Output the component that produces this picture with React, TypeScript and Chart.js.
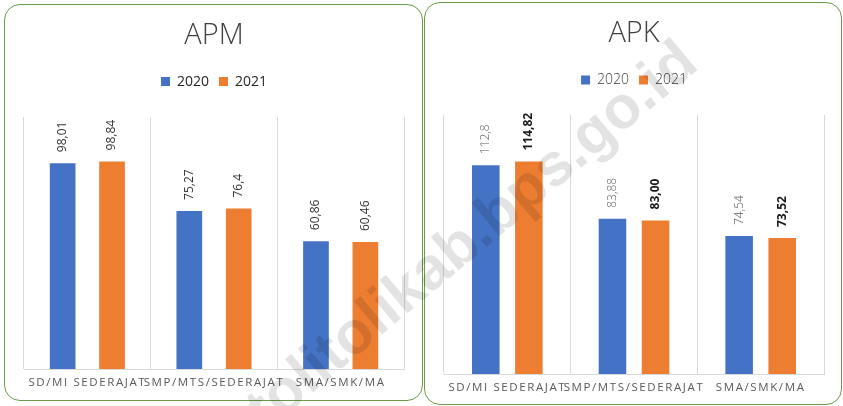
import React, { useEffect, useRef } from 'react';
import { Chart, registerables, CategoryScale } from 'chart.js';

// ---------- data ----------
const categories = ['SD/MI SEDERAJAT', 'SMP/MTS/SEDERAJAT', 'SMA/SMK/MA'];
const seriesNames = ['2020', '2021'];

const apm2020 = [98.01, 75.27, 60.86];
const apm2021 = [98.84, 76.4, 60.46];
const apmLabels2020 = ['98,01', '75,27', '60,86'];
const apmLabels2021 = ['98,84', '76,4', '60,46'];
const apmMax = 120;

const apk2020 = [112.8, 83.88, 74.54];
const apk2021 = [114.82, 83.0, 73.52];
const apkLabels2020 = ['112,8', '83,88', '74,54'];
const apkLabels2021 = ['114,82', '83,00', '73,52'];
const apkMax = 140;

const watermarkText = 'tolitolikab.bps.go.id';

// ---------- chart.js setup ----------
class SpacedCategoryScale extends CategoryScale {
  static id = 'spacedCategory';
  static defaults = (CategoryScale as any).defaults;
  drawLabels(chartArea: any) {
    const ctx = (this as any).ctx as CanvasRenderingContext2D;
    ctx.save();
    (ctx as any).letterSpacing = '1.6px';
    super.drawLabels(chartArea);
    ctx.restore();
  }
}

Chart.register(...registerables, SpacedCategoryScale);

const barLabels = {
  id: 'barLabels',
  afterDatasetsDraw(chart: any, _args: any, opts: any) {
    const ctx = chart.ctx as CanvasRenderingContext2D;
    chart.data.datasets.forEach((_ds: any, di: number) => {
      const meta = chart.getDatasetMeta(di);
      const style = opts.styles[di];
      const labels = opts.labels[di];
      meta.data.forEach((bar: any, i: number) => {
        ctx.save();
        ctx.translate(bar.x, bar.y - opts.offset);
        ctx.rotate(-Math.PI / 2);
        ctx.font = style.font;
        ctx.fillStyle = style.color;
        ctx.textAlign = 'left';
        ctx.textBaseline = 'middle';
        ctx.fillText(labels[i], 0, 0);
        ctx.restore();
      });
    });
  },
};

const FONT = "'Open Sans', 'Noto Sans', sans-serif";
const BLUE = '#4472C4';
const ORANGE = '#ED7D31';
const GRID = '#d9d9d9';

type PanelCfg = {
  title: string;
  v2020: number[];
  v2021: number[];
  l2020: string[];
  l2021: string[];
  max: number;
  catPct: number;
  barPct: number;
  titlePadTop: number;
  titlePadBottom: number;
  spacer: number;
  padLeft: number;
  padRight: number;
  padBottom: number;
  legendColor: string;
  legendWeight: string;
  labelStyles: { font: string; color: string }[];
};

function makeChart(canvas: HTMLCanvasElement, c: PanelCfg) {
  return new Chart(canvas, {
    type: 'bar',
    data: {
      labels: categories,
      datasets: [
        { label: seriesNames[0], data: c.v2020, backgroundColor: BLUE, categoryPercentage: c.catPct, barPercentage: c.barPct },
        { label: seriesNames[1], data: c.v2021, backgroundColor: ORANGE, categoryPercentage: c.catPct, barPercentage: c.barPct },
      ],
    },
    options: {
      responsive: false,
      animation: false,
      events: [],
      layout: { padding: { top: 0, left: c.padLeft, right: c.padRight, bottom: c.padBottom } },
      scales: {
        x: {
          type: 'spacedCategory' as any,
          offset: true,
          grid: { offset: true, color: GRID, lineWidth: 1, drawTicks: false },
          border: { color: GRID, width: 1 },
          ticks: {
            autoSkip: false,
            maxRotation: 0,
            minRotation: 0,
            padding: 7,
            color: '#595959',
            font: { family: FONT, size: 11.5 },
          },
        },
        y: { display: false, min: 0, max: c.max },
      },
      plugins: {
        title: {
          display: true,
          text: c.title,
          color: '#404040',
          font: { family: FONT, size: 29, weight: '300' as any },
          padding: { top: c.titlePadTop, bottom: c.titlePadBottom },
        },
        subtitle: {
          display: true,
          text: '',
          font: { size: 1 },
          padding: { top: 0, bottom: c.spacer },
          weight: 500,
        } as any,
        legend: {
          display: true,
          position: 'top',
          weight: 1800,
          labels: {
            boxWidth: 9,
            boxHeight: 9,
            padding: 10,
            color: c.legendColor,
            font: { family: FONT, size: 14, weight: c.legendWeight as any },
          },
        } as any,
        tooltip: { enabled: false },
        barLabels: {
          offset: 11,
          labels: [c.l2020, c.l2021],
          styles: c.labelStyles,
        },
      } as any,
    },
    plugins: [barLabels],
  });
}

const apmCfg: PanelCfg = {
  title: 'APM',
  v2020: apm2020,
  v2021: apm2021,
  l2020: apmLabels2020,
  l2021: apmLabels2021,
  max: apmMax,
  catPct: 0.78,
  barPct: 0.52,
  titlePadTop: 14.6,
  titlePadBottom: 11.2,
  spacer: 17.2,
  padLeft: 20,
  padRight: 19,
  padBottom: 4.2,
  legendColor: '#262626',
  legendWeight: '400',
  labelStyles: [
    { font: `400 12px ${FONT}`, color: '#333333' },
    { font: `400 12px ${FONT}`, color: '#333333' },
  ],
};

const apkCfg: PanelCfg = {
  title: 'APK',
  v2020: apk2020,
  v2021: apk2021,
  l2020: apkLabels2020,
  l2021: apkLabels2021,
  max: apkMax,
  catPct: 0.68,
  barPct: 0.64,
  titlePadTop: 14,
  titlePadBottom: 12.2,
  spacer: 16.8,
  padLeft: 20,
  padRight: 18,
  padBottom: 3.2,
  legendColor: '#404040',
  legendWeight: '300',
  labelStyles: [
    { font: `300 12px ${FONT}`, color: '#595959' },
    { font: `700 12px ${FONT}`, color: '#1a1a1a' },
  ],
};

function Panel(props: { cfg: PanelCfg; left: number; top: number; width: number; height: number }) {
  const ref = useRef<HTMLCanvasElement>(null);
  useEffect(() => {
    if (!ref.current) return;
    const chart = makeChart(ref.current, props.cfg);
    return () => chart.destroy();
  }, []);
  const { left, top, width, height } = props;
  return (
    <>
      <canvas
        ref={ref}
        width={width}
        height={height}
        style={{ position: 'absolute', left, top, width, height, display: 'block' }}
      />
      <div
        style={{
          position: 'absolute',
          left,
          top,
          width,
          height,
          boxSizing: 'border-box',
          border: '1.5px solid #6b9a48',
          borderRadius: 16,
          pointerEvents: 'none',
        }}
      />
    </>
  );
}

export default function App() {
  return (
    <div
      style={{
        position: 'fixed',
        left: 0,
        top: 0,
        width: 843,
        height: 406,
        overflow: 'hidden',
        background: '#ffffff',
      }}
    >
      <Panel cfg={apmCfg} left={4} top={4} width={419} height={397} />
      <Panel cfg={apkCfg} left={424} top={2} width={418} height={403} />
      <div
        style={{
          position: 'absolute',
          right: 843 - 688,
          top: 52 - 30,
          height: 60,
          lineHeight: '60px',
          fontSize: 60,
          fontWeight: 700,
          fontFamily: "'Liberation Sans', Arial, sans-serif",
          color: 'rgba(0,0,0,0.11)',
          whiteSpace: 'nowrap',
          transformOrigin: 'right center',
          transform: 'rotate(-40deg)',
          pointerEvents: 'none',
        }}
      >
        {watermarkText}
      </div>
    </div>
  );
}
